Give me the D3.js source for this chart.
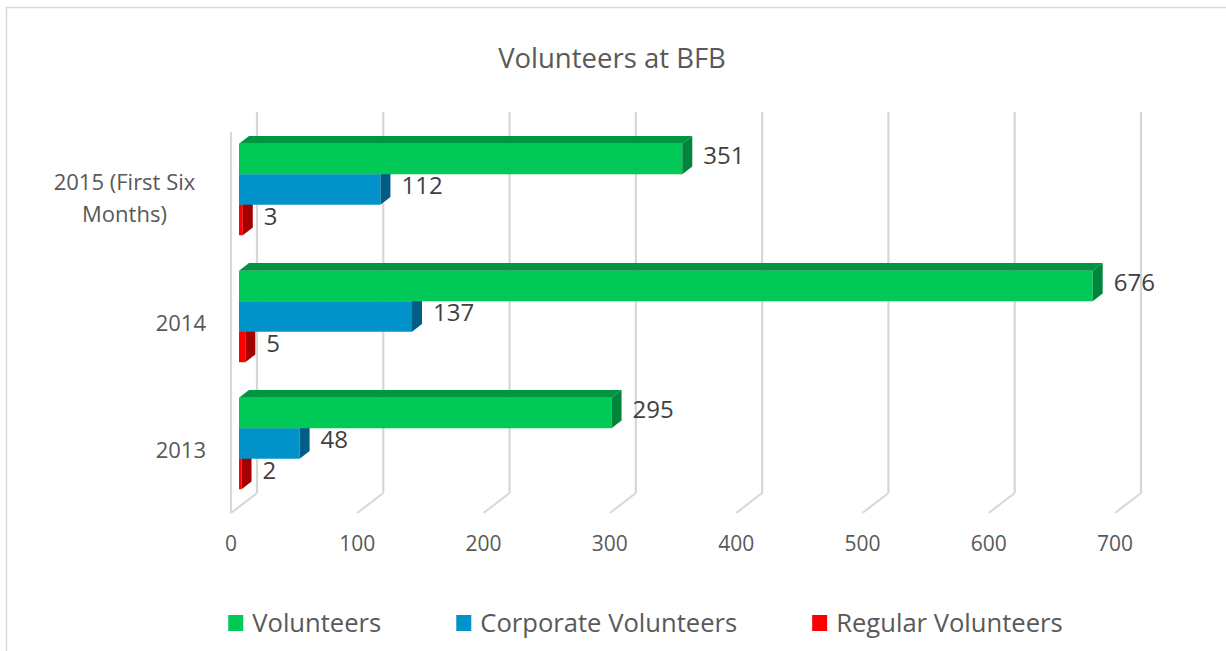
<!DOCTYPE html>
<html>
<head>
<meta charset="utf-8">
<script src="https://cdn.jsdelivr.net/npm/d3@7"></script>
<style>
  body { margin: 0; background: #fff; }
  svg text { font-family: "Open Sans", sans-serif; }
</style>
</head>
<body>
<div id="chart"></div>
<script>

// chart data
var categories = ["2013", "2014", "2015 (First Six Months)"];
var seriesNames = ["Volunteers", "Corporate Volunteers", "Regular Volunteers"];
var volunteers = [295, 676, 351];
var corporateVolunteers = [48, 137, 112];
var regularVolunteers = [2, 5, 3];
var tickValues = [0, 100, 200, 300, 400, 500, 600, 700];

var seriesValues = [volunteers, corporateVolunteers, regularVolunteers];
var colors = [
    { front: "#00C957", top: "#009540", side: "#00853A" },
    { front: "#0092C9", top: "#0074A0", side: "#005E84" },
    { front: "#FF0000", top: "#C00000", side: "#A50000" }
];

var W = 1226, H = 651;

var svg = d3.select("#chart").append("svg")
    .attr("width", W)
    .attr("height", H);

// chart area border
svg.append("rect")
    .attr("x", 6.5).attr("y", 7.5)
    .attr("width", 1240).attr("height", 700)
    .attr("fill", "#fff")
    .attr("stroke", "#D9D9D9")
    .attr("stroke-width", 1.5);

// title
svg.append("text")
    .attr("x", 612).attr("y", 68)
    .attr("text-anchor", "middle")
    .attr("font-size", 27.5)
    .attr("fill", "#595959")
    .text("Volunteers at BFB");

// 3d geometry: front-bottom corner of the plot and the depth vector
var ox = 231, oy = 513;
var depthX = 26, depthY = 20;
var plotH = 381;

// bars sit inside the depth, a bit behind the front plane
var barOffX = 8, barOffY = 6;
var barDX = 10, barDY = 7.7;

var x = d3.scaleLinear()
    .domain([0, 700])
    .range([0, 884]);

var y = d3.scaleBand()
    .domain(categories.slice().reverse())
    .range([oy - plotH, oy])
    .paddingInner(0.28)
    .paddingOuter(0.14);

var ySeries = d3.scaleBand()
    .domain(seriesNames)
    .range([0, y.bandwidth()]);

// gridlines: back wall + floor
var grid = svg.append("g").attr("class", "grid");

grid.append("line")
    .attr("x1", ox).attr("x2", ox)
    .attr("y1", oy - plotH).attr("y2", oy)
    .attr("stroke", "#D9D9D9").attr("stroke-width", 2.2);

grid.selectAll(".back")
    .data(tickValues)
    .enter().append("line")
    .attr("class", "back")
    .attr("x1", function (d) { return ox + depthX + x(d); })
    .attr("x2", function (d) { return ox + depthX + x(d); })
    .attr("y1", oy - depthY - plotH)
    .attr("y2", oy - depthY)
    .attr("stroke", "#D6D6D6").attr("stroke-width", 2.2);

grid.selectAll(".floor")
    .data(tickValues)
    .enter().append("line")
    .attr("class", "floor")
    .attr("x1", function (d) { return ox + x(d); })
    .attr("x2", function (d) { return ox + depthX + x(d); })
    .attr("y1", oy)
    .attr("y2", oy - depthY)
    .attr("stroke", "#D9D9D9").attr("stroke-width", 2.2);

// tick labels
svg.selectAll(".tick-label")
    .data(tickValues)
    .enter().append("text")
    .attr("class", "tick-label")
    .attr("x", function (d) { return ox + x(d); })
    .attr("y", 551)
    .attr("text-anchor", "middle")
    .attr("font-size", 21)
    .attr("fill", "#595959")
    .text(function (d) { return d; });

// category labels (wrapped)
var catLabels = svg.selectAll(".cat-label")
    .data(categories)
    .enter().append("text")
    .attr("class", "cat-label")
    .attr("font-size", 22)
    .attr("fill", "#595959");

catLabels.each(function (d) {
    var el = d3.select(this);
    var words = d.split(" ");
    var lines = [], line = [];
    var probe = el.append("tspan");
    words.forEach(function (w) {
        line.push(w);
        probe.text(line.join(" "));
        if (probe.node().getComputedTextLength() > 160 && line.length > 1) {
            line.pop();
            lines.push(line.join(" "));
            line = [w];
        }
    });
    lines.push(line.join(" "));
    probe.remove();

    var cy = y(d) + y.bandwidth() / 2;
    var lh = 32;
    var first = cy - (lines.length - 1) * lh / 2;
    var multi = lines.length > 1;
    el.attr("text-anchor", multi ? "middle" : "end");
    lines.forEach(function (l, i) {
        el.append("tspan")
            .attr("x", multi ? 124.5 : 206)
            .attr("y", first + i * lh + (multi ? 10 : 8))
            .text(l);
    });
});

// bars
var rows = [];
categories.forEach(function (c, ci) {
    seriesNames.forEach(function (s, si) {
        rows.push({ cat: c, series: s, si: si, value: seriesValues[si][ci] });
    });
});
// draw bottom bar of each cluster first so upper bars cover hidden top faces
rows.sort(function (a, b) { return b.si - a.si; });

var bars = svg.selectAll(".bar")
    .data(rows)
    .enter().append("g")
    .attr("class", "bar");

function geom(d) {
    var x0 = ox + barOffX + x(0);
    var x1 = ox + barOffX + x(d.value);
    var yt = y(d.cat) + ySeries(d.series) - barOffY;
    var yb = yt + ySeries.bandwidth();
    return { x0: x0, x1: x1, yt: yt, yb: yb };
}

bars.append("rect")
    .attr("x", function (d) { return geom(d).x0; })
    .attr("y", function (d) { return geom(d).yt; })
    .attr("width", function (d) { var g = geom(d); return g.x1 - g.x0; })
    .attr("height", ySeries.bandwidth())
    .attr("fill", function (d) { return colors[d.si].front; });

bars.append("path")
    .attr("d", function (d) {
        var g = geom(d);
        return "M" + g.x0 + "," + g.yt +
            "L" + (g.x0 + barDX) + "," + (g.yt - barDY) +
            "L" + (g.x1 + barDX) + "," + (g.yt - barDY) +
            "L" + g.x1 + "," + g.yt + "Z";
    })
    .attr("fill", function (d) { return colors[d.si].top; });

bars.append("path")
    .attr("d", function (d) {
        var g = geom(d);
        return "M" + g.x1 + "," + g.yt +
            "L" + (g.x1 + barDX) + "," + (g.yt - barDY) +
            "L" + (g.x1 + barDX) + "," + (g.yb - barDY) +
            "L" + g.x1 + "," + g.yb + "Z";
    })
    .attr("fill", function (d) { return colors[d.si].side; });

// value labels
svg.selectAll(".value-label")
    .data(rows)
    .enter().append("text")
    .attr("class", "value-label")
    .attr("x", function (d) { return geom(d).x1 + barDX + 11; })
    .attr("y", function (d) { var g = geom(d); return (g.yt + g.yb) / 2 - 4; })
    .attr("dy", "0.36em")
    .attr("font-size", 24)
    .attr("fill", "#404040")
    .text(function (d) { return d.value; });

// legend
var legend = svg.append("g").attr("class", "legend");
var lx = 0;
seriesNames.forEach(function (s, i) {
    var item = legend.append("g").attr("transform", "translate(" + lx + ",0)");
    item.append("rect")
        .attr("x", 0).attr("y", -8)
        .attr("width", 15).attr("height", 16)
        .attr("fill", colors[i].front);
    var t = item.append("text")
        .attr("x", 24).attr("y", 0)
        .attr("dy", "0.36em")
        .attr("font-size", 25.6)
        .attr("fill", "#595959")
        .text(s);
    lx += 24 + t.node().getComputedTextLength() + 75;
});
var legendW = lx - 75;
legend.attr("transform", "translate(" + (645.5 - legendW / 2) + ",623)");

</script>
</body>
</html>
